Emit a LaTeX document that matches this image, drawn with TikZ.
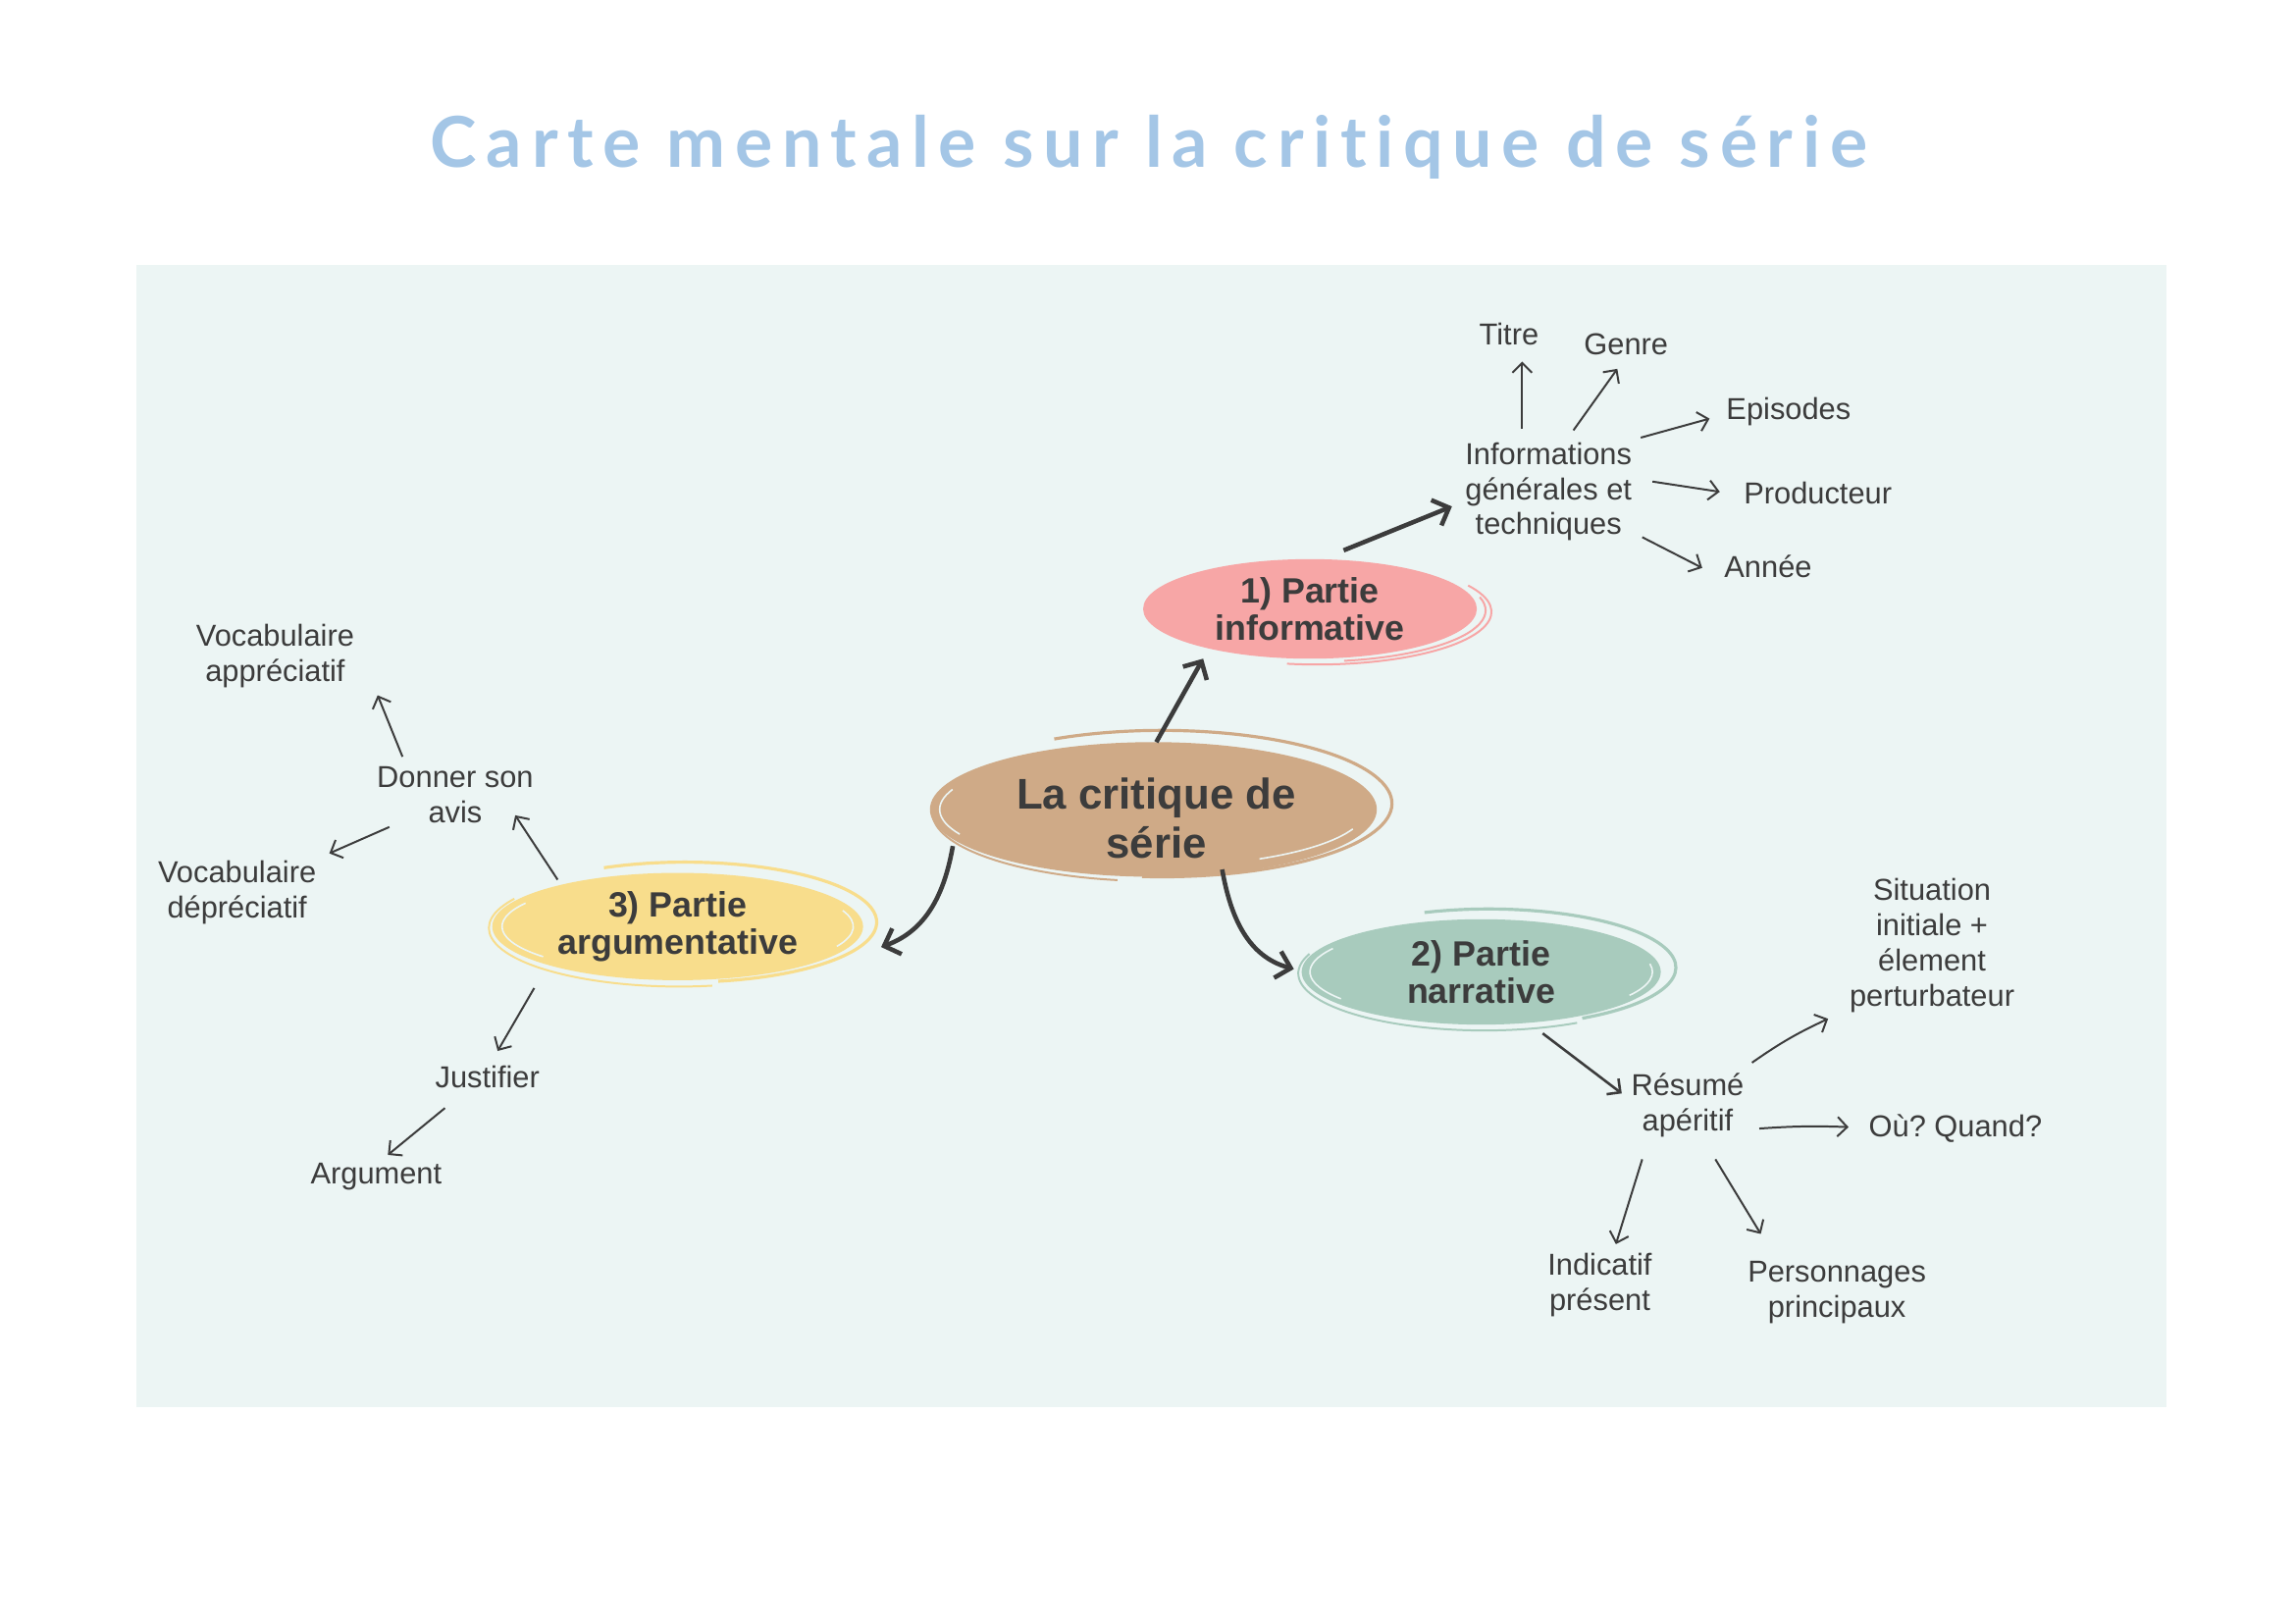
\documentclass[tikz,border=0pt]{standalone}
\usepackage{fontspec}
\setmainfont{Liberation Sans}
\newfontfamily\titrefont[LetterSpace=13.5,Ligatures={NoCommon,NoRequired,NoContextual}]{Lato}
\usetikzlibrary{arrows.meta,calc,shapes.geometric}
\frenchspacing
\definecolor{FondPanneau}{RGB}{236,245,244}
\definecolor{TitreBleu}{RGB}{164,198,230}
\definecolor{Caramel}{RGB}{207,170,135}
\definecolor{Rose}{RGB}{247,166,166}
\definecolor{Sauge}{RGB}{168,203,189}
\definecolor{Jaune}{RGB}{248,221,140}
\definecolor{Encre}{RGB}{60,60,60}

\begin{document}
\begin{tikzpicture}[x=0.75pt, y=0.75pt,
    texte/.style={text=Encre, align=center, font=\fontsize{15.5}{18}\selectfont},
    bulle/.style={ellipse, inner sep=0pt, text=Encre, align=center, font=\bfseries\fontsize{18}{19.3}\selectfont},
    fleche/.style={draw=Encre, line width=1pt, -{Straight Barb[length=5pt,width=10pt]}},
    grosse/.style={draw=Encre, line width=2.3pt, -{Straight Barb[length=7pt,width=14pt]}},
    anneau/.style={line width=1.6pt},
    reflet/.style={draw=FondPanneau, line width=0.8pt}]
  \useasboundingbox (0,0) rectangle (1568,1109);
  \fill[FondPanneau] (93,148) rectangle (1480,928);

  % titre
  \node[anchor=base, text=TitreBleu, font=\titrefont\bfseries\fontsize{36}{40}\selectfont] (entete) at (785,995) {Carte mentale sur la critique de série};

  % bulles
  \node[bulle, fill=Caramel, minimum width=229pt, minimum height=69pt] (centre) at (788,556) {};
  \node[text=Encre, align=center, font=\bfseries\fontsize{22}{25.5}\selectfont] (centretxt) at (790,550) {La critique de\\série};
  \draw[Caramel, anneau] (centre) ++(6,4) ++(118:157 and 50) arc[start angle=118, end angle=-95, x radius=157, y radius=50];
  \draw[Caramel, line width=1pt] (centre) ++(2,-2) ++(-100:153 and 47) arc[start angle=-100, end angle=-190, x radius=153, y radius=47];
  \draw[reflet] (centre) ++(-60:145 and 39) arc[start angle=-60, end angle=-20, x radius=145, y radius=39];
  \draw[reflet] (centre) ++(160:146 and 40) arc[start angle=160, end angle=205, x radius=146, y radius=40];

  \node[bulle, fill=Rose, minimum width=171pt, minimum height=51pt] (info1) at (895,693) {1) Partie\\informative};
  \draw[Rose, line width=1pt] (info1) ++(5,-2) ++(30:119 and 36) arc[start angle=30, end angle=-100, x radius=119, y radius=36];
  \draw[Rose, line width=1pt] (info1) ++(3,-1) ++(15:117 and 35) arc[start angle=15, end angle=-80, x radius=117, y radius=35];

  \node[bulle, fill=Sauge, minimum width=184pt, minimum height=54pt] (narr2) at (1012,445) {2) Partie\\narrative};
  \draw[Sauge, anneau] (narr2) ++(5,3) ++(110:128 and 40) arc[start angle=110, end angle=-60, x radius=128, y radius=40];
  \draw[Sauge, line width=1pt] (narr2) ++(2,-1) ++(-60:127 and 39) arc[start angle=-60, end angle=-200, x radius=127, y radius=39];
  \draw[reflet] (narr2) ++(150:117 and 32) arc[start angle=150, end angle=215, x radius=117, y radius=32];
  \draw[reflet] (narr2) ++(10:117 and 32) arc[start angle=10, end angle=-30, x radius=117, y radius=32];

  \node[bulle, fill=Jaune, minimum width=190pt, minimum height=55pt] (arg3) at (463,476) {3) Partie\\argumentative};
  \draw[Jaune, anneau] (arg3) ++(5,3) ++(115:131 and 41) arc[start angle=115, end angle=-80, x radius=131, y radius=41];
  \draw[Jaune, line width=1pt] (arg3) ++(1,-1) ++(-80:130 and 40) arc[start angle=-80, end angle=-210, x radius=130, y radius=40];
  \draw[reflet] (arg3) ++(150:120 and 32) arc[start angle=150, end angle=220, x radius=120, y radius=32];
  \draw[reflet] (arg3) ++(20:120 and 32) arc[start angle=20, end angle=-25, x radius=120, y radius=32];

  % textes
  \node[texte] (info) at (1058,773) {Informations\\générales et\\techniques};
  \node[texte] (titre) at (1031,881) {Titre};
  \node[texte] (genre) at (1111,874) {Genre};
  \node[texte] (episodes) at (1222,828) {Episodes};
  \node[texte] (producteur) at (1242,772) {Producteur};
  \node[texte] (annee) at (1208,722) {Année};
  \node[texte] (vocapp) at (188,661) {Vocabulaire\\appréciatif};
  \node[texte] (donner) at (311,566) {Donner son\\avis};
  \node[texte] (vocdep) at (162,499) {Vocabulaire\\dépréciatif};
  \node[texte] (justifier) at (333,373) {Justifier};
  \node[texte] (argument) at (257,305) {Argument};
  \node[texte] (situation) at (1320,463) {Situation\\initiale +\\élement\\perturbateur};
  \node[texte] (resume) at (1153,354) {Résumé\\apéritif};
  \node[texte] (ou) at (1336,338) {Où? Quand?};
  \node[texte] (indicatif) at (1093,231) {Indicatif\\présent};
  \node[texte] (personnages) at (1255,226) {Personnages\\principaux};

  % fleches epaisses
  \draw[grosse] ($(centre)+(2,46)$) -- ($(info1)+(-73,-34)$);
  \draw[grosse] ($(info1)+(23,40)$) -- ($(info)+(-66,-10)$);
  \draw[grosse] ($(centre)+(-137,-25)$) to[out=-100, in=20] ($(arg3)+(139,-14)$);
  \draw[grosse] ($(centre)+(47,-41)$) to[out=-80, in=165] ($(narr2)+(-128,2)$);

  % fleches fines
  \draw[fleche] ($(info)+(-18,43)$) -- ($(titre)+(9,-19)$);
  \draw[fleche] ($(info)+(17,42)$) -- ($(genre)+(-6,-17)$);
  \draw[fleche] ($(info)+(63,37)$) -- ($(episodes)+(-54,-5)$);
  \draw[fleche] ($(info)+(71,7)$) -- ($(producteur)+(-67,1)$);
  \draw[fleche] ($(info)+(64,-31)$) -- ($(annee)+(-45,-1)$);
  \draw[fleche] ($(arg3)+(-82,32)$) -- ($(donner)+(41,-14)$);
  \draw[fleche] ($(donner)+(-36,26)$) -- ($(vocapp)+(70,-27)$);
  \draw[fleche] ($(donner)+(-45,-22)$) -- ($(vocdep)+(63,27)$);
  \draw[fleche] ($(arg3)+(-98,-42)$) -- ($(justifier)+(7,18)$);
  \draw[fleche] ($(justifier)+(-29,-21)$) -- ($(argument)+(8,15)$);
  \draw[fleche, line width=1.3pt] ($(narr2)+(42,-42)$) -- ($(resume)+(-45,8)$);
  \draw[fleche] ($(resume)+(44,29)$) to[bend left=5] ($(situation)+(-71,-50)$);
  \draw[fleche] ($(resume)+(49,-16)$) to[bend left=3] ($(ou)+(-73,1)$);
  \draw[fleche] ($(resume)+(-31,-37)$) -- ($(indicatif)+(11,28)$);
  \draw[fleche] ($(resume)+(19,-37)$) -- ($(personnages)+(-52,40)$);
\end{tikzpicture}
\end{document}
